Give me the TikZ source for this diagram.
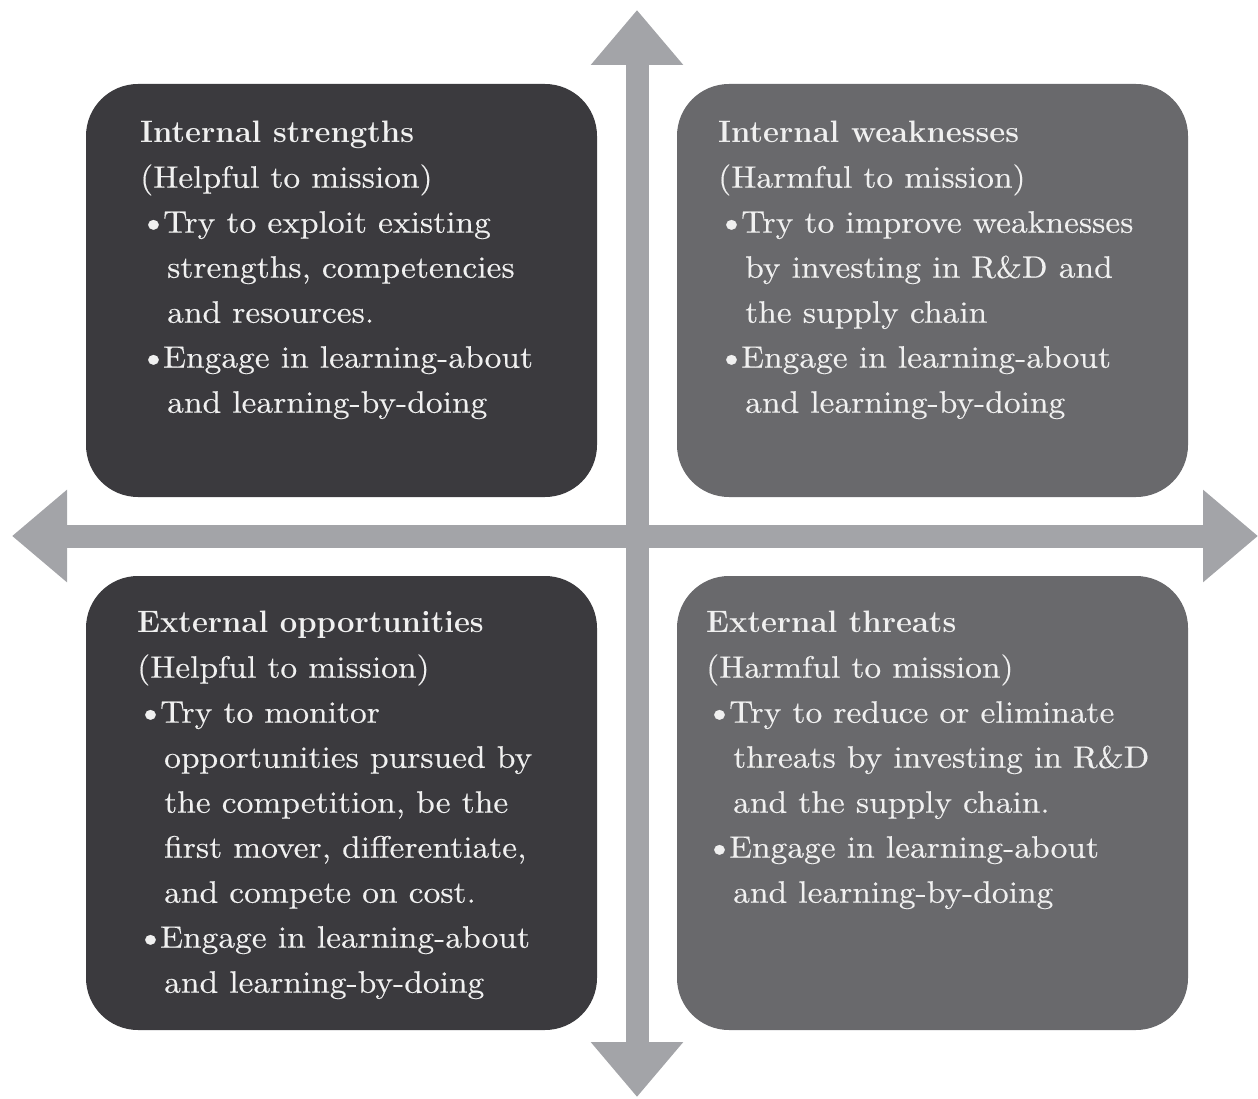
\documentclass[tikz,border=0pt]{standalone}
\usepackage{fontspec}
\newfontfamily\bodyfont{lmroman10-regular.otf}[FakeStretch=1.08,FakeBold=0.3]
\usetikzlibrary{arrows.meta}
\definecolor{darkq}{HTML}{3B3A3E}
\definecolor{midq}{HTML}{69696C}
\definecolor{axisc}{HTML}{A3A4A8}
\definecolor{txt}{HTML}{F0F0F0}
\newcommand{\bul}{\hspace*{-1pt}\makebox[24pt][l]{\fontsize{34}{45}\selectfont\textbullet}}
\newcommand{\cnt}{\hspace*{27pt}}
\newcommand{\ttl}[1]{{\normalfont\bfseries\fontsize{31}{45}\selectfont #1}}
\tikzset{
  quad/.style={rectangle, rounded corners=52pt, minimum width=511pt, minimum height=413pt, inner sep=0pt},
  quadtall/.style={quad, minimum height=454pt},
  darkquad/.style={fill=darkq},
  midquad/.style={fill=midq},
  qtext/.style={anchor=north west, inner sep=0pt, align=left, text=txt, font=\bodyfont\fontsize{31}{45}\selectfont},
  axis/.style={draw=axisc, line width=23pt, {Triangle[width=89pt,length=55pt]}-{Triangle[width=89pt,length=55pt]}, color=axisc}
}
\begin{document}
\begin{tikzpicture}[x=1pt,y=-1pt]
\useasboundingbox (0,0) rectangle (1258,1099);
% axes
\coordinate (axL) at (12,536);
\coordinate (axR) at (1258,536);
\coordinate (axT) at (637,10);
\coordinate (axB) at (637,1097);
\draw[axis] (axL) -- (axR);
\draw[axis] (axT) -- (axB);
% boxes
\node[quad, darkquad] (tl) at (341.5,290.5) {};
\node[quad, midquad] (tr) at (932.5,290.5) {};
\node[quadtall, darkquad] (bl) at (341.5,803) {};
\node[quadtall, midquad] (br) at (932.5,803) {};
% texts
\node[qtext] (tlt) at (140,121) {\ttl{Internal strengths}\\
(Helpful to mission)\\
\bul Try to exploit existing\\
\cnt strengths, competencies\\
\cnt and resources.\\
\bul Engage in learning-about\\
\cnt and learning-by-doing};
\node[qtext] (trt) at (718,121) {\ttl{Internal weaknesses}\\
(Harmful to mission)\\
\bul Try to improve weaknesses\\
\cnt by investing in R\&D and\\
\cnt the supply chain\\
\bul Engage in learning-about\\
\cnt and learning-by-doing};
\node[qtext] (blt) at (137,611) {\ttl{External opportunities}\\
(Helpful to mission)\\
\bul Try to monitor\\
\cnt opportunities pursued by\\
\cnt the competition, be the\\
\cnt first mover, differentiate,\\
\cnt and compete on cost.\\
\bul Engage in learning-about\\
\cnt and learning-by-doing};
\node[qtext] (brt) at (706,611) {\ttl{External threats}\\
(Harmful to mission)\\
\bul Try to reduce or eliminate\\
\cnt threats by investing in R\&D\\
\cnt and the supply chain.\\
\bul Engage in learning-about\\
\cnt and learning-by-doing};
\end{tikzpicture}
\end{document}
